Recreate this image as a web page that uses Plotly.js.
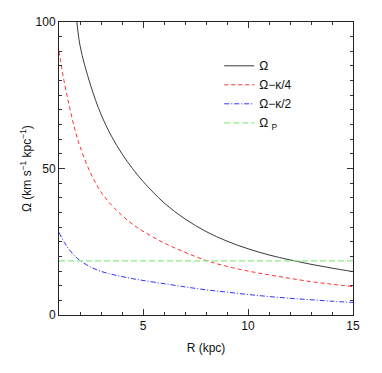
<!DOCTYPE html>
<html>
<head>
<meta charset="utf-8">
<script src="https://cdn.plot.ly/plotly-3.0.1.min.js"></script>
<style>html,body{margin:0;padding:0;background:#fff;}#chart{width:382px;height:373px;}</style>
</head>
<body>
<div id="chart"></div>
<script>
// Radius (kpc)
const R_omega = [1.8, 2, 2.5, 3, 3.5, 4, 4.5, 5, 6, 7, 8, 9, 10, 11, 12, 13, 14, 15];
const omega   = [104, 92, 78.5, 68.5, 61, 55, 50, 45.6, 38.3, 32.8, 28.5, 25.2, 22.6, 20.5, 18.8, 17.3, 16.0, 14.8];

const R_all   = [1, 1.25, 1.5, 1.75, 2, 2.5, 3, 3.5, 4, 4.5, 5, 6, 7, 8, 9, 10, 11, 12, 13, 14, 15];
const omegaK4 = [90, 79.5, 71, 63.5, 57.5, 48.5, 42, 37.5, 34, 31, 28.6, 24.6, 21.4, 18.6, 16.6, 15.0, 13.7, 12.5, 11.4, 10.5, 9.7];
const omegaK2 = [28.2, 24.8, 22.2, 20.2, 18.6, 16.4, 14.9, 13.9, 13.1, 12.4, 11.8, 10.7, 9.6, 8.6, 7.8, 7.0, 6.3, 5.7, 5.2, 4.7, 4.3];

const R_p     = [1, 15];
const omegaP  = [18.5, 18.5];

const names = ["Ω", "Ω−κ/4", "Ω−κ/2", "Ω <sub>P</sub>"];
const xTitle = "R (kpc)";
const yTitle = "Ω (km s<sup>−1</sup> kpc<sup>−1</sup>)";

const FONT = "Liberation Sans, Arial, sans-serif";

const traces = [
  {x: R_omega, y: omega, name: names[0], mode: "lines", line: {color: "#3a3a3a", width: 1, shape: "spline"}},
  {x: R_all, y: omegaK4, name: names[1], mode: "lines", line: {color: "#ff3030", width: 1, dash: "4px,3px", shape: "spline"}},
  {x: R_all, y: omegaK2, name: names[2], mode: "lines", line: {color: "#3030ff", width: 1, dash: "5px,2px,1px,2px", shape: "spline"}},
  {x: R_p, y: omegaP, name: names[3], mode: "lines", line: {color: "#88ee88", width: 1.3, dash: "6px,3px"}}
];

const axisCommon = {
  showgrid: false, zeroline: false,
  showline: true, linecolor: "#222", linewidth: 1, mirror: "allticks",
  ticks: "inside", ticklen: 6, tickwidth: 1, tickcolor: "#333",
  tickfont: {family: FONT, size: 12, color: "#111"}
};

const layout = {
  width: 382, height: 373,
  margin: {l: 59, r: 29, t: 22, b: 58},
  paper_bgcolor: "#fff", plot_bgcolor: "#fff",
  showlegend: true,
  legend: {x: 0.545, y: 0.9, xanchor: "left", yanchor: "top", bgcolor: "rgba(0,0,0,0)",
           font: {family: FONT, size: 12, color: "#111"},
           itemwidth: 30, tracegroupgap: 0},
  xaxis: Object.assign({}, axisCommon, {
    range: [1, 15], tickvals: [5, 10, 15],
    minor: {dtick: 1, tick0: 0, ticks: "inside", ticklen: 3, tickcolor: "#333"},
    title: {text: xTitle, font: {family: FONT, size: 12, color: "#111"}, standoff: 11}
  }),
  yaxis: Object.assign({}, axisCommon, {
    range: [0, 100], tickvals: [0, 50, 100],
    minor: {dtick: 5, tick0: 0, ticks: "inside", ticklen: 3, tickcolor: "#333"},
    title: {text: ""}
  }),
  annotations: [{
    text: yTitle, xref: "paper", yref: "paper", x: -0.114, y: 0.5,
    xanchor: "center", yanchor: "middle", textangle: -90, showarrow: false,
    font: {family: FONT, size: 12, color: "#111"}
  }]
};

Plotly.newPlot("chart", traces, layout, {displayModeBar: false, staticPlot: true});
</script>
</body>
</html>
